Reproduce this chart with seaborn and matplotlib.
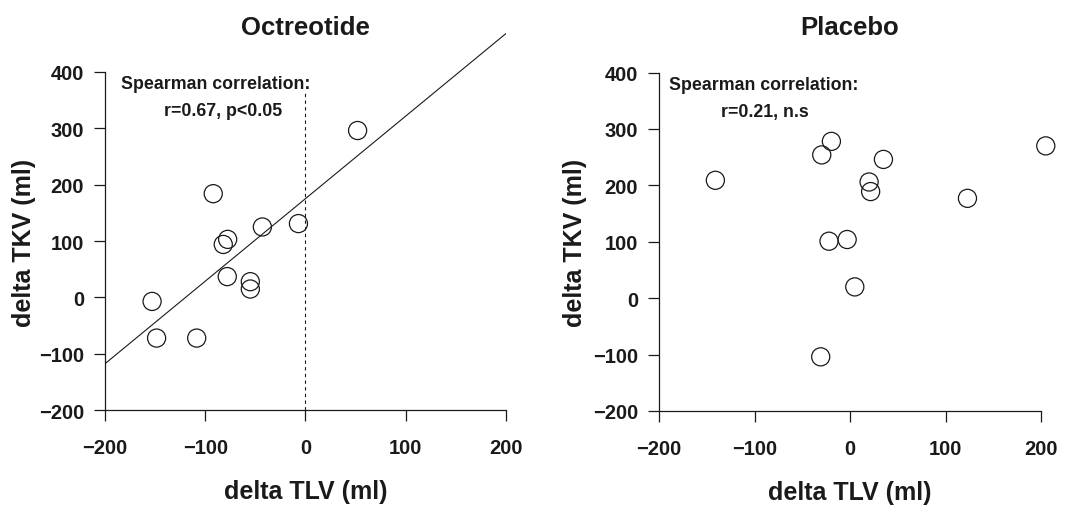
import numpy as np
import pandas as pd
import seaborn as sns
import matplotlib
matplotlib.use("Agg")
import matplotlib.pyplot as plt

# valores (delta TLV, delta TKV em ml)
oct_tlv = [52, -92, -77.6, -82, -43, -7, -78, -55, -55, -153, -148.5, -108.5]
oct_tkv = [296, 184, 103, 94, 125, 131, 37, 28, 15, -7, -72, -72]

pla_tlv = [-141, -29.6, -19.5, 35, 20, 21.6, 123, 205, -22, -3, 5, -30.7]
pla_tkv = [209, 254, 278, 246, 206, 189, 177, 270, 101, 104, 20, -104]

titulos = ["Octreotide", "Placebo"]
texto_sp = ["Spearman correlation:", "Spearman correlation:"]
texto_r = ["r=0.67, p<0.05", "r=0.21, n.s"]
ticks_x = [-200, -100, 0, 100, 200]
ticks_y = [-200, -100, 0, 100, 200, 300, 400]

sns.set_style("ticks")
plt.rcParams["font.family"] = ["Liberation Sans", "DejaVu Sans"]
plt.rcParams["font.weight"] = "bold"

fig = plt.figure(figsize=(10.69, 5.06), dpi=100)
ax1 = fig.add_axes([0.0982, 0.1872, 0.3751, 0.758])
ax2 = fig.add_axes([0.6165, 0.1858, 0.3573, 0.7580])

df_oct = pd.DataFrame({"tlv": oct_tlv, "tkv": oct_tkv})
df_pla = pd.DataFrame({"tlv": pla_tlv, "tkv": pla_tkv})

cor = "#1a1a1a"

for i, (ax, df) in enumerate([(ax1, df_oct), (ax2, df_pla)]):
    ax.set_xlim(-200, 200)
    ax.set_ylim(-200, 480)
    if i == 0:
        # reta de regressao so no octreotide
        sns.regplot(x="tlv", y="tkv", data=df, ax=ax, scatter=False, ci=None,
                    truncate=False, color=cor, line_kws={"linewidth": 0.8})
        ax.vlines(0, -200, 365, colors=cor, linestyles=(0, (3, 3)), linewidth=0.8)
    sns.scatterplot(x="tlv", y="tkv", data=df, ax=ax, s=170, facecolor="none",
                    edgecolor=cor, linewidth=0.9, zorder=3, clip_on=False)
    ax.set_xlim(-200, 200)
    ax.set_ylim(-200, 480)

    ax.set_xticks(ticks_x)
    ax.set_yticks(ticks_y)
    ax.spines["top"].set_visible(False)
    ax.spines["right"].set_visible(False)
    ax.spines["left"].set_bounds(-200, 400)
    ax.spines["bottom"].set_bounds(-200, 200)
    for s in ["left", "bottom"]:
        ax.spines[s].set_linewidth(0.9)
        ax.spines[s].set_color(cor)
    ax.tick_params(axis="both", direction="out", length=8, width=0.9,
                   color=cor, labelsize=14.5, labelcolor=cor)
    ax.tick_params(axis="x", pad=12)
    ax.tick_params(axis="y", pad=7)
    for lab in ax.get_xticklabels() + ax.get_yticklabels():
        lab.set_fontweight("bold")

    ax.set_xlabel("delta TLV (ml)", fontsize=18, fontweight="bold", color=cor)
    ax.set_ylabel("delta TKV (ml)", fontsize=18, fontweight="bold", color=cor)
    ax.xaxis.set_label_coords(0.5, -0.18)
    ax.yaxis.set_label_coords(-0.172 if i == 0 else -0.188, 0.44)

    ax.set_title(titulos[i], fontsize=18.5, fontweight="bold", color=cor,
                 y=1.0, pad=0, va="center")

    ax.text(-90, 379, texto_sp[i], ha="center", va="center", fontsize=12.8,
            fontweight="bold", color=cor)
    ax.text(-82 if i == 0 else -89.5, 331, texto_r[i], ha="center", va="center",
            fontsize=12.8, fontweight="bold", color=cor)

plt.savefig("out.png", dpi=100)
